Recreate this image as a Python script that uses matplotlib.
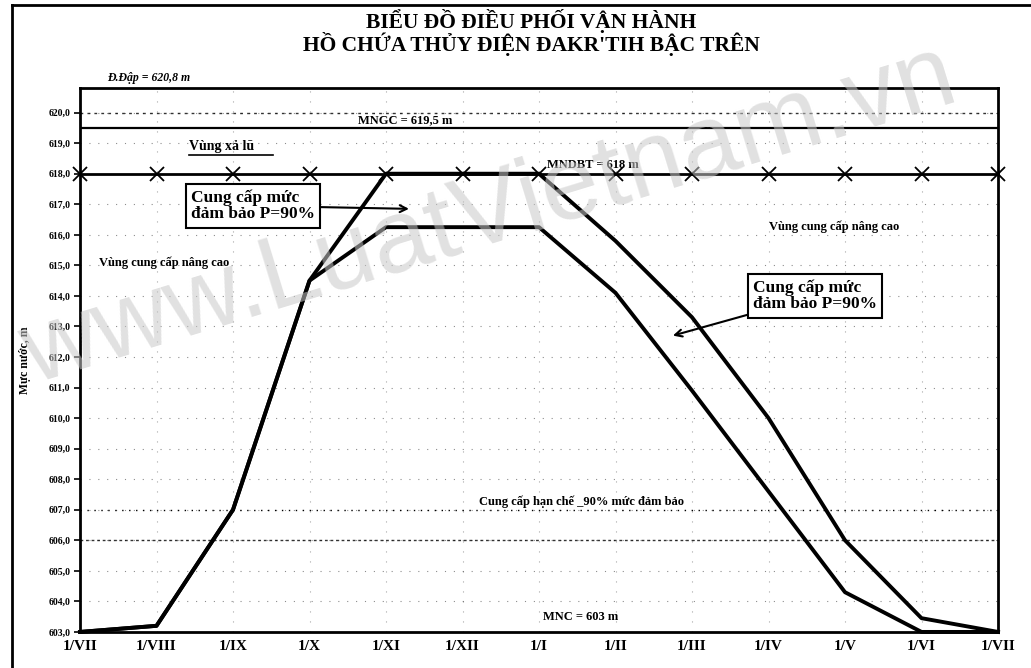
import matplotlib
matplotlib.use('Agg')
import matplotlib.pyplot as plt
import numpy as np

plt.rcParams['font.family'] = ['Liberation Serif', 'DejaVu Serif']

# dữ liệu
months = ['1/VII', '1/VIII', '1/IX', '1/X', '1/XI', '1/XII', '1/I',
          '1/II', '1/III', '1/IV', '1/V', '1/VI', '1/VII']
upper = [603.0, 603.2, 607.0, 614.5, 618.0, 618.0, 618.0,
         615.8, 613.3, 610.0, 606.0, 603.45, 603.0]
lower = [603.0, 603.2, 607.0, 614.5, 616.25, 616.25, 616.25,
         614.1, 610.9, 607.6, 604.3, 603.0, 603.0]
y_ticks = np.arange(603, 621, 1.0)
dap = 620.8
mngc = 619.5
mndbt = 618.0
mnc = 603.0
han_che = 607.0
line_606 = 606.0

x = np.arange(len(months))

fig = plt.figure(figsize=(10.31, 6.68), dpi=100)
ax = fig.add_axes([0.0776, 0.054, 0.8904, 0.814])

# lưới chấm thưa
for yv in y_ticks:
    ax.axhline(yv, color='black', lw=0.8, ls=(0, (1, 7)), alpha=0.45, zorder=1)
for xv in x[1:-1]:
    ax.axvline(xv, color='black', lw=0.8, ls=(0, (1, 8)), alpha=0.35, zorder=1)

ax.axhline(620.0, color='black', lw=1.0, ls=(0, (2, 3)), alpha=0.8, zorder=2)
ax.axhline(mngc, color='black', lw=1.6, zorder=3)
ax.axhline(han_che, color='black', lw=1.0, ls=(0, (1, 4)), zorder=2)
ax.axhline(line_606, color='black', lw=1.0, ls=(0, (2, 2)), alpha=0.8, zorder=2)
ax.plot(x, [mndbt] * len(x), color='black', lw=2.0, marker='x', ms=10, mew=1.3,
        zorder=4, clip_on=False)

ax.plot(x, upper, color='black', lw=2.8, zorder=5, clip_on=False)
ax.plot(x, lower, color='black', lw=2.8, zorder=5, clip_on=False)

ax.set_xlim(0, len(x) - 1)
ax.set_ylim(mnc, dap)
ax.set_xticks(x)
ax.set_xticklabels(months, fontsize=11, fontweight='bold')
ax.tick_params(axis='x', length=0, pad=6)
ax.set_yticks(y_ticks)
ax.set_yticklabels([f'{v:.1f}'.replace('.', ',') for v in y_ticks], fontsize=7,
                   fontweight='bold')
ax.tick_params(axis='y', length=4, width=1.2, direction='out', pad=3)
for s in ax.spines.values():
    s.set_linewidth(2.0)
ax.set_ylabel('Mực nước, m', fontsize=8.5, fontweight='bold', labelpad=12)

# tiêu đề
fig.text(0.515, 0.968, 'BIỂU ĐỒ ĐIỀU PHỐI VẬN HÀNH', ha='center', va='center',
         fontsize=15.5, fontweight='bold')
fig.text(0.515, 0.934, "HỒ CHỨA THỦY ĐIỆN ĐAKR'TIH BẬC TRÊN", ha='center',
         va='center', fontsize=15.5, fontweight='bold')
fig.text(0.104, 0.883, 'Đ.Đập = 620,8 m', ha='left', va='center', fontsize=8.5,
         fontweight='bold', style='italic')

# nhãn trong vùng vẽ
kw = dict(fontsize=9, fontweight='bold')
ax.text(4.25, mngc + 0.05, 'MNGC = 619,5 m', ha='center', va='bottom', **kw)
ax.text(1.43, 618.9, 'Vùng xả lũ', ha='left', va='center', fontsize=10,
        fontweight='bold')
ax.plot([1.43, 2.52], [618.6, 618.6], color='black', lw=1.2)
ax.text(6.1, 618.1, 'MNDBT = 618 m', ha='left', va='bottom', **kw)
ax.text(0.25, 615.1, 'Vùng cung cấp nâng cao', ha='left', va='center', **kw)
ax.text(9.0, 616.25, 'Vùng cung cấp nâng cao', ha='left', va='center', **kw)
ax.text(6.55, 607.05, 'Cung cấp hạn chế _90% mức đảm bảo', ha='center',
        va='bottom', **kw)
ax.text(6.55, 603.3, 'MNC = 603 m', ha='center', va='bottom', **kw)

box = dict(boxstyle='square,pad=0.3', fc='white', ec='black', lw=1.5)
ax.annotate('Cung cấp mức\nđảm bảo P=90%', xy=(4.3, 616.85), xytext=(1.45, 616.95),
            ha='left', va='center', fontsize=12.5, fontweight='bold', bbox=box,
            linespacing=1.05, zorder=6,
            arrowprops=dict(arrowstyle='->', color='black', lw=1.5,
                            shrinkA=0, shrinkB=0))
ax.annotate('Cung cấp mức\nđảm bảo P=90%', xy=(7.75, 612.7), xytext=(8.8, 614.0),
            ha='left', va='center', fontsize=12.5, fontweight='bold', bbox=box,
            linespacing=1.05, zorder=6,
            arrowprops=dict(arrowstyle='->', color='black', lw=1.5,
                            shrinkA=0, shrinkB=0))

# khung trang scan
fig.add_artist(plt.Line2D([0.012, 0.012], [0.0, 0.992], color='black', lw=2,
                          transform=fig.transFigure))
fig.add_artist(plt.Line2D([0.012, 1.0], [0.992, 0.992], color='black', lw=2,
                          transform=fig.transFigure))

# watermark
fig.text(0.475, 0.675, 'www.LuatVietnam.vn', ha='center', va='center',
         fontsize=75, color='#c8c8c8', alpha=0.55, rotation=17,
         family='Liberation Sans', zorder=10)

fig.savefig('out.png', dpi=100)
